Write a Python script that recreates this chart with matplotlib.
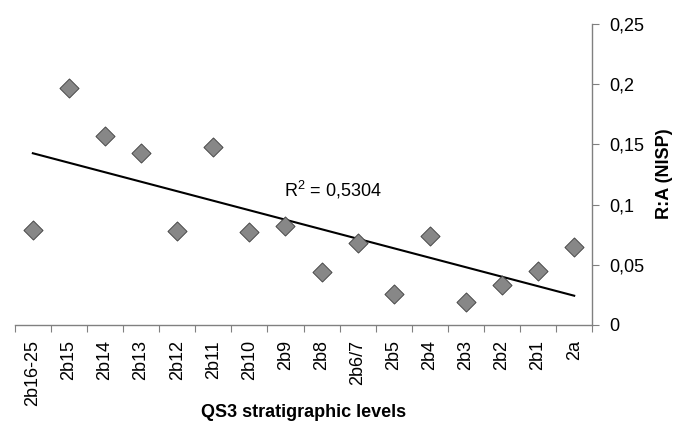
import numpy as np
import matplotlib
matplotlib.use("Agg")
import matplotlib.pyplot as plt
from matplotlib.ticker import FuncFormatter

plt.rcParams['font.family'] = ['Liberation Sans', 'DejaVu Sans']
plt.rcParams['mathtext.fontset'] = 'custom'
plt.rcParams['mathtext.rm'] = 'Liberation Sans'

# stratigraphic levels, oldest to youngest
levels = ['2b16-25', '2b15', '2b14', '2b13', '2b12', '2b11', '2b10', '2b9',
          '2b8', '2b6/7', '2b5', '2b4', '2b3', '2b2', '2b1', '2a']
# R:A ratio (NISP)
ra_nisp = [0.079, 0.197, 0.157, 0.143, 0.078, 0.148, 0.077, 0.082,
           0.044, 0.068, 0.026, 0.074, 0.019, 0.033, 0.045, 0.065]
r2_label = 'R$^2$ = 0,5304'

x = np.arange(len(levels))
y = np.array(ra_nisp)

fig = plt.figure(figsize=(6.73, 4.23), dpi=100)
ax = fig.add_axes([0.022, 0.232, 0.858, 0.711])

# linear trend line (Excel style)
slope, intercept = np.polyfit(x, y, 1)
ax.plot(x, slope * x + intercept, color='black', lw=1.5, zorder=2)

ax.scatter(x, y, marker='D', s=95, facecolor='#878787', edgecolor='#3a3a3a',
           linewidth=0.6, zorder=3)

ax.text(6.95, 0.1125, r2_label, fontsize=13, ha='left', va='center')

ax.set_xlim(-0.5, len(levels) - 0.5)
ax.set_ylim(0, 0.25)

# y axis on the right
ax.yaxis.tick_right()
ax.yaxis.set_label_position('right')
ax.set_yticks([0, 0.05, 0.1, 0.15, 0.2, 0.25])
ax.yaxis.set_major_formatter(FuncFormatter(lambda v, p: ('%g' % v).replace('.', ',')))
ax.set_ylabel('R:A (NISP)', fontsize=13, fontweight='bold')
ax.yaxis.set_label_coords(1.125, 0.502)
ax.yaxis.label.set_ha('center')
ax.yaxis.label.set_va('center')

# categories centred, ticks between them
ax.set_xticks(np.arange(-0.5, len(levels), 1.0))
ax.set_xticklabels([])
ax.set_xticks(x, minor=True)
ax.set_xticklabels(levels, minor=True, rotation=90, fontsize=13)
ax.tick_params(axis='x', which='minor', length=0, pad=11)
ax.tick_params(axis='x', which='major', length=5, color='#808080')
ax.tick_params(axis='y', length=5, color='#808080', labelsize=13, pad=7)
ax.set_xlabel('QS3 stratigraphic levels', fontsize=13, fontweight='bold')
# kept just inside the bottom edge
ax.xaxis.set_label_coords(0.5, -0.318)
ax.xaxis.label.set_va('bottom')

for side in ['top', 'left']:
    ax.spines[side].set_visible(False)
for side in ['bottom', 'right']:
    ax.spines[side].set_color('#808080')
    ax.spines[side].set_linewidth(1.0)

fig.savefig('out.png', dpi=100)
